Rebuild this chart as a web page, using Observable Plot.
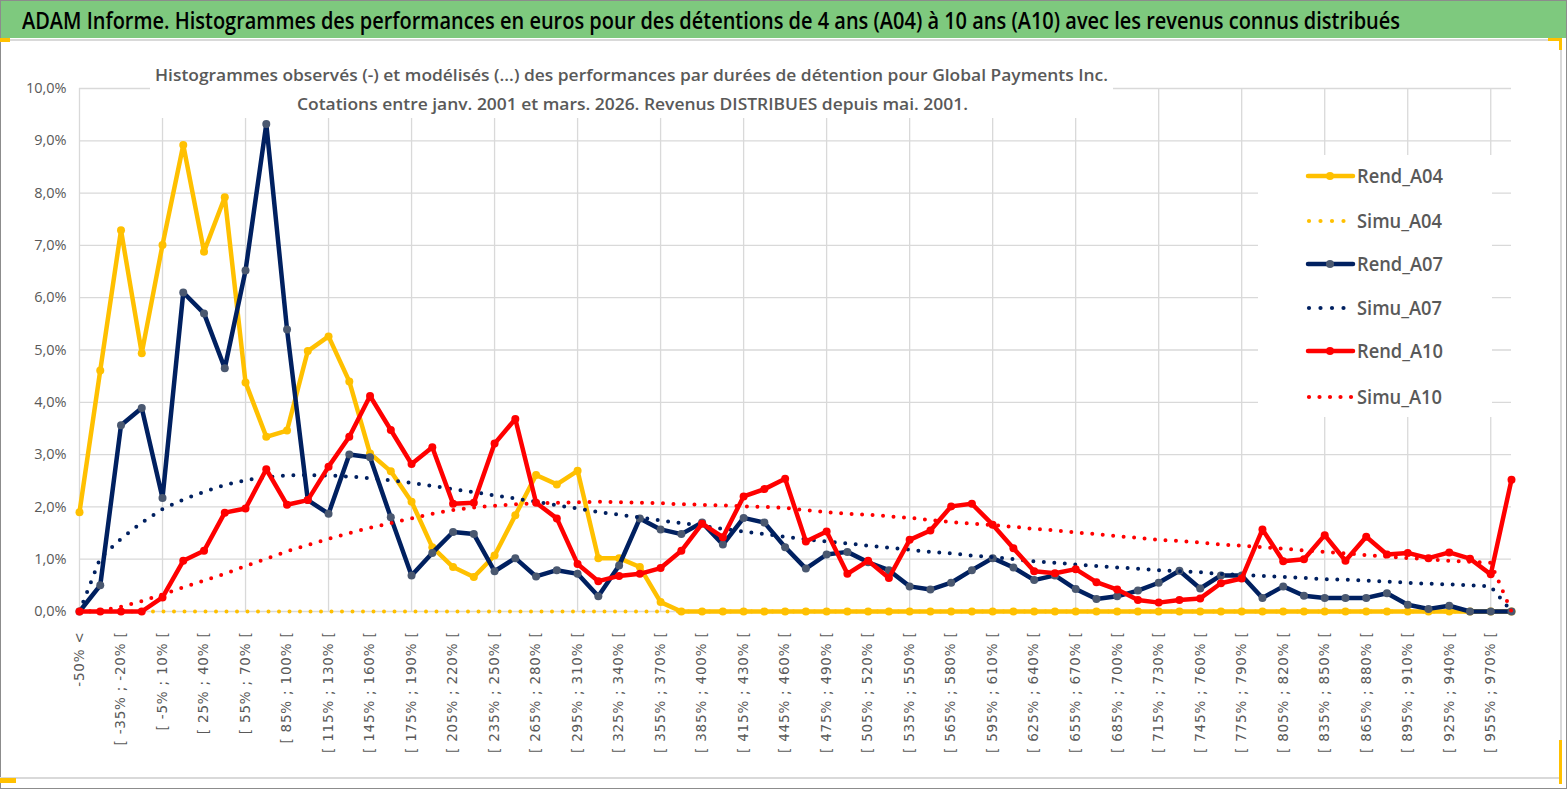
<!DOCTYPE html>
<html><head><meta charset="utf-8">
<script src="https://cdn.jsdelivr.net/npm/d3@7"></script>
<script src="https://cdn.jsdelivr.net/npm/@observablehq/plot@0.6"></script>
<style>
body{margin:0;background:#fff;}
#wrap{position:relative;width:1567px;height:789px;overflow:hidden;background:#fff;font-family:"Open Sans",sans-serif;}
.abs{position:absolute;}
.fit{position:absolute;white-space:nowrap;transform-origin:0 50%;}
#chart{position:absolute;left:0;top:40px;}
#chart g[aria-label="x-axis tick label"]{font-family:"DejaVu Sans",sans-serif;font-size:13.5px;letter-spacing:0.8px;fill:#595959;}
#chart g[aria-label="y-axis tick label"]{font-family:"Open Sans",sans-serif;font-size:14.5px;fill:#595959;}
.sub{font-size:17px;font-weight:600;color:#595959;line-height:22px;}
.leg{font-size:19px;font-weight:600;color:#595959;line-height:24px;}
</style></head><body>
<div id="wrap">
  <div class="abs" style="left:0;top:0;width:1567px;height:789px;box-sizing:border-box;border:1px solid #8c8c8c;"></div>
  <div class="abs" style="left:1px;top:1px;width:1565px;height:37px;background:#7EC97E;"></div>
  <div class="abs" style="left:0;top:39px;width:1562px;height:740px;box-sizing:border-box;border-top:2px solid #d9d9d9;border-right:2px solid #d9d9d9;border-bottom:2px solid #d9d9d9;"></div>
  <div id="chart"></div>
  <div class="abs" style="left:150px;top:56px;width:963px;height:62px;background:#fff;"></div>
  <div class="abs" style="left:1258px;top:155px;width:234px;height:262px;background:#fff;"></div>
  <div class="abs" style="left:0;top:38px;width:10px;height:4px;background:#FFC000;"></div>
  <div class="abs" style="left:1548px;top:38px;width:14px;height:3px;background:#FFC000;"></div>
  <div class="abs" style="left:1559px;top:38px;width:3px;height:12px;background:#FFC000;"></div>
  <div class="abs" style="left:0;top:778px;width:16px;height:5px;background:#FFC000;"></div>
  <div class="abs" style="left:1559px;top:740px;width:3px;height:44px;background:#FFC000;"></div>
  <div class="fit" id="title" data-w="1378" style="left:22px;top:5px;font-size:24px;line-height:30px;font-weight:600;color:#000;">ADAM Informe. Histogrammes des performances en euros pour des détentions de 4 ans (A04) à 10 ans (A10) avec les revenus connus distribués</div>
  <div class="fit sub" data-w="953" style="left:155px;top:64px;">Histogrammes observés (-) et modélisés (...) des performances par durées de détention pour Global Payments Inc.</div>
  <div class="fit sub" data-w="671" style="left:297px;top:93px;">Cotations entre janv. 2001 et mars. 2026. Revenus DISTRIBUES depuis mai. 2001.</div>
  <div id="legend"></div>
</div>
<script>
const categories = [
"-50% <",
"[ -50% ; -35% [","[ -35% ; -20% [","[ -20% ; -5% [","[ -5% ; 10% [","[ 10% ; 25% [","[ 25% ; 40% [","[ 40% ; 55% [","[ 55% ; 70% [","[ 70% ; 85% [","[ 85% ; 100% [",
"[ 100% ; 115% [","[ 115% ; 130% [","[ 130% ; 145% [","[ 145% ; 160% [","[ 160% ; 175% [","[ 175% ; 190% [","[ 190% ; 205% [","[ 205% ; 220% [","[ 220% ; 235% [","[ 235% ; 250% [",
"[ 250% ; 265% [","[ 265% ; 280% [","[ 280% ; 295% [","[ 295% ; 310% [","[ 310% ; 325% [","[ 325% ; 340% [","[ 340% ; 355% [","[ 355% ; 370% [","[ 370% ; 385% [","[ 385% ; 400% [",
"[ 400% ; 415% [","[ 415% ; 430% [","[ 430% ; 445% [","[ 445% ; 460% [","[ 460% ; 475% [","[ 475% ; 490% [","[ 490% ; 505% [","[ 505% ; 520% [","[ 520% ; 535% [","[ 535% ; 550% [",
"[ 550% ; 565% [","[ 565% ; 580% [","[ 580% ; 595% [","[ 595% ; 610% [","[ 610% ; 625% [","[ 625% ; 640% [","[ 640% ; 655% [","[ 655% ; 670% [","[ 670% ; 685% [","[ 685% ; 700% [",
"[ 700% ; 715% [","[ 715% ; 730% [","[ 730% ; 745% [","[ 745% ; 760% [","[ 760% ; 775% [","[ 775% ; 790% [","[ 790% ; 805% [","[ 805% ; 820% [","[ 820% ; 835% [","[ 835% ; 850% [",
"[ 850% ; 865% [","[ 865% ; 880% [","[ 880% ; 895% [","[ 895% ; 910% [","[ 910% ; 925% [","[ 925% ; 940% [","[ 940% ; 955% [","[ 955% ; 970% [","> 970%"
];
const yTicks = [0,1,2,3,4,5,6,7,8,9,10];

const rendA04 = [1.90,4.61,7.29,4.94,7.01,8.92,6.88,7.92,4.38,3.34,
 3.46,4.98,5.26,4.40,3.02,2.68,2.10,1.23,0.85,0.66,
 1.07,1.84,2.61,2.43,2.69,1.02,1.02,0.85,0.18,0,
 0,0,0,0,0,0,0,0,0,0,
 0,0,0,0,0,0,0,0,0,0,
 0,0,0,0,0,0,0,0,0,0,
 0,0,0,0,0,0,0,0,0,0];
const simuA04 = [0,0,0,0,0,0,0,0,0,0,
 0,0,0,0,0,0,0,0,0,0,
 0,0,0,0,0,0,0,0,0,0,
 0,0,0,0,0,0,0,0,0,0,
 0,0,0,0,0,0,0,0,0,0,
 0,0,0,0,0,0,0,0,0,0,
 0,0,0,0,0,0,0,0,0,0];
const rendA07 = [0.00,0.50,3.56,3.89,2.17,6.10,5.70,4.65,6.52,9.32,
 5.39,2.13,1.87,3.00,2.95,1.80,0.69,1.12,1.52,1.48,
 0.77,1.02,0.67,0.79,0.72,0.29,0.88,1.78,1.57,1.48,
 1.70,1.28,1.79,1.70,1.23,0.82,1.09,1.14,0.94,0.79,
 0.48,0.42,0.55,0.79,1.02,0.84,0.60,0.69,0.43,0.24,
 0.29,0.40,0.55,0.78,0.44,0.69,0.69,0.26,0.48,0.30,
 0.26,0.26,0.26,0.35,0.13,0.05,0.11,0,0,0];
const simuA07 = [0.00,1.02,1.39,1.70,1.96,2.14,2.29,2.42,2.51,2.57,
 2.60,2.61,2.60,2.58,2.55,2.51,2.46,2.40,2.34,2.28,
 2.22,2.16,2.10,2.03,1.97,1.90,1.85,1.80,1.74,1.69,
 1.64,1.58,1.53,1.48,1.43,1.38,1.34,1.30,1.26,1.22,
 1.18,1.14,1.11,1.07,1.04,1.00,0.96,0.93,0.90,0.87,
 0.84,0.82,0.79,0.77,0.75,0.72,0.70,0.68,0.66,0.64,
 0.62,0.61,0.59,0.57,0.55,0.53,0.52,0.50,0.48,0];
const rendA10 = [0,0,0,0,0.27,0.97,1.16,1.89,1.97,2.72,
 2.04,2.13,2.77,3.34,4.12,3.47,2.82,3.14,2.06,2.08,
 3.21,3.68,2.08,1.78,0.91,0.58,0.68,0.72,0.83,1.16,
 1.68,1.42,2.20,2.34,2.54,1.34,1.53,0.72,0.97,0.64,
 1.37,1.55,2.01,2.06,1.66,1.21,0.77,0.73,0.81,0.56,
 0.42,0.22,0.17,0.22,0.25,0.54,0.63,1.57,0.96,1.00,
 1.46,0.97,1.43,1.09,1.12,1.02,1.13,1.01,0.71,2.52];
const simuA10 = [0.00,0.01,0.09,0.20,0.33,0.46,0.59,0.72,0.87,1.01,
 1.15,1.27,1.39,1.50,1.60,1.69,1.78,1.87,1.94,1.99,
 2.02,2.05,2.07,2.08,2.09,2.10,2.09,2.08,2.07,2.05,
 2.04,2.03,2.01,2.00,1.98,1.94,1.90,1.87,1.85,1.82,
 1.79,1.75,1.71,1.68,1.65,1.62,1.58,1.55,1.51,1.48,
 1.44,1.41,1.37,1.35,1.32,1.28,1.26,1.23,1.20,1.17,
 1.14,1.11,1.08,1.05,1.02,1.00,0.97,0.95,0.93,0];

const seriesNames = ["Rend_A04","Simu_A04","Rend_A07","Simu_A07","Rend_A10","Simu_A10"];
const seriesValues = [rendA04, simuA04, rendA07, simuA07, rendA10, simuA10];
const seriesColors = ["#FFC000","#FFC000","#002060","#002060","#FF0000","#FF0000"];
const markerColors = ["#FFC000",null,"#4A5870",null,"#FF0000",null];

const toRows = vals => vals.map((v,i)=>({cat: categories[i], v}));
const gridCats = categories.filter((d,i)=>i%4===0);
const labelCats = categories.filter((d,i)=>i%2===0);

const marks = [
  Plot.ruleY(yTicks, {y: d=>d, stroke:"#d9d9d9", strokeWidth:1.3}),
  Plot.ruleX(gridCats, {x: d=>d, y1: 0, y2: 10, stroke:"#d9d9d9", strokeWidth:1.3})
];
seriesNames.forEach((name, k) => {
  const rows = toRows(seriesValues[k]);
  if (markerColors[k]) {
    marks.push(Plot.line(rows, {x:"cat", y:"v", stroke: seriesColors[k], strokeWidth:4.5, strokeLinejoin:"round", strokeLinecap:"round"}));
    marks.push(Plot.dot(rows, {x:"cat", y:"v", r:4, fill: markerColors[k], stroke:"none"}));
  } else {
    marks.push(Plot.line(rows, {x:"cat", y:"v", stroke: seriesColors[k], strokeWidth:4, strokeDasharray:"0 10.5", strokeLinecap:"round"}));
  }
});
marks.push(Plot.axisY({ticks: yTicks, label: null, tickSize:0, tickPadding:13, tickFormat: d => d.toFixed(1).replace(".", ",") + "%", fontSize:14.5, fill:"#595959"}));
marks.push(Plot.axisX({ticks: labelCats, label: null, tickSize:0, tickPadding:20, tickRotate:-90, fontSize:13.5, fill:"#595959"}));

const chart = Plot.plot({
  width: 1567, height: 749,
  marginLeft: 79, marginRight: 56, marginTop: 48, marginBottom: 178,
  style: {background:"transparent", overflow:"visible"},
  x: {type:"point", domain: categories, padding:0, round:false, axis:null, label:null},
  y: {domain:[0,10], axis:null, label:null},
  marks
});
document.getElementById("chart").appendChild(chart);

// legend
const legY = [176,221,264,308,351,397];
const legW = [86,85,86,85,86,85];
const leg = document.getElementById("legend");
seriesNames.forEach((name,k)=>{
  const y = legY[k];
  const ns = "http://www.w3.org/2000/svg";
  const svg = document.createElementNS(ns,"svg");
  svg.setAttribute("width",52); svg.setAttribute("height",20);
  svg.style.position="absolute"; svg.style.left="1305px"; svg.style.top=(y-10)+"px";
  if (markerColors[k]) {
    const l = document.createElementNS(ns,"line");
    l.setAttribute("x1",3); l.setAttribute("x2",48); l.setAttribute("y1",10); l.setAttribute("y2",10);
    l.setAttribute("stroke",seriesColors[k]); l.setAttribute("stroke-width",4.5); l.setAttribute("stroke-linecap","round");
    svg.appendChild(l);
    const c = document.createElementNS(ns,"circle");
    c.setAttribute("cx",25); c.setAttribute("cy",10); c.setAttribute("r",4); c.setAttribute("fill",markerColors[k]);
    svg.appendChild(c);
  } else {
    const xs = name==="Simu_A10" ? [4,14.5,25,35.5,46] : [4,15.5,27,38.5];
    xs.forEach(x=>{
      const c = document.createElementNS(ns,"circle");
      c.setAttribute("cx",x); c.setAttribute("cy",10); c.setAttribute("r",2.1); c.setAttribute("fill",seriesColors[k]);
      svg.appendChild(c);
    });
  }
  leg.appendChild(svg);
  const t = document.createElement("div");
  t.className = "fit leg"; t.textContent = name; t.dataset.w = legW[k];
  t.style.left = "1357px"; t.style.top = (y-12)+"px";
  leg.appendChild(t);
});

function fitAll(){
  document.querySelectorAll("[data-w]").forEach(el=>{
    el.style.transform = "none";
    const w = el.getBoundingClientRect().width;
    el.style.transform = "scaleX(" + (+el.dataset.w / w) + ")";
  });
}
fitAll();
if (document.fonts && document.fonts.ready) document.fonts.ready.then(fitAll);
</script>
</body></html>
